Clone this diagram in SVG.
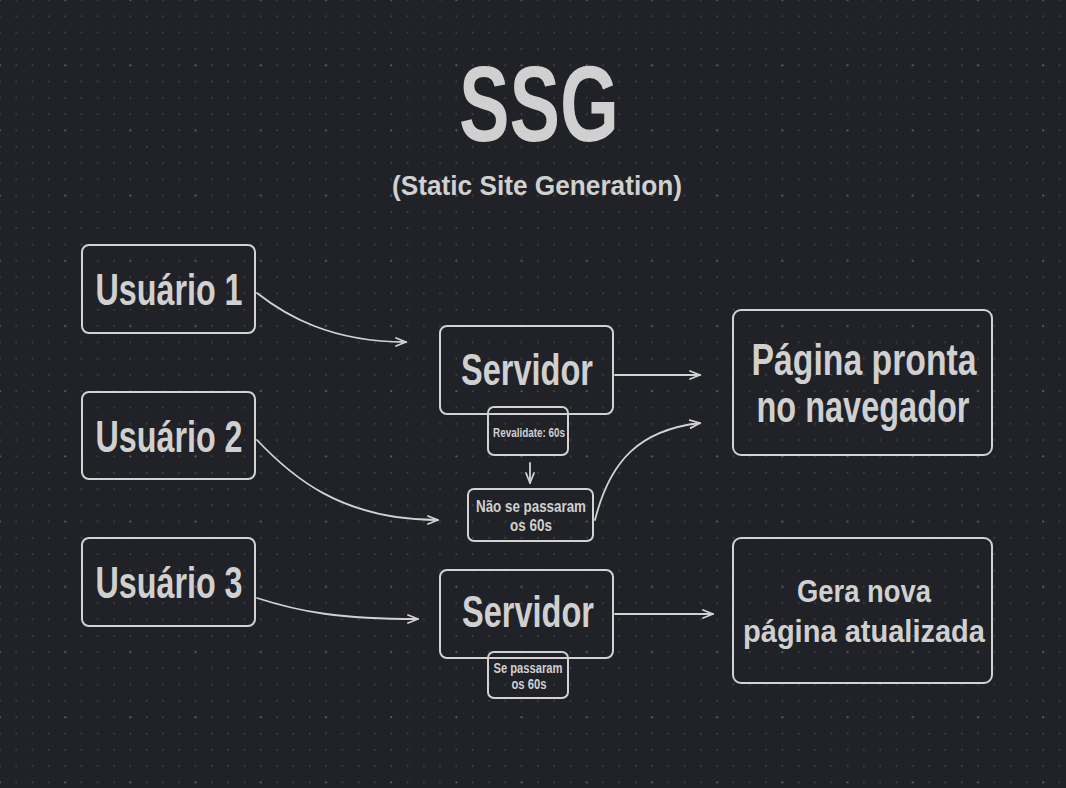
<svg xmlns="http://www.w3.org/2000/svg" width="1066" height="788" viewBox="0 0 1066 788">
<defs>
<style>
.box{fill:none;stroke:#d2d2d2;stroke-width:2;stroke-linejoin:round}
.conn{fill:none;stroke:#d2d2d2;stroke-width:1.8;stroke-linecap:round}
.t{font-family:"Liberation Sans",Arial,sans-serif;font-weight:bold;fill:#d0d0d0;text-anchor:middle}
</style>
<pattern id="grid" x="-8.15" y="-8.15" width="65.2" height="65.2" patternUnits="userSpaceOnUse">
<g fill="#43464d">
<circle cx="24.45" cy="8.15" r="0.9"/><circle cx="40.75" cy="8.15" r="0.9"/><circle cx="57.05" cy="8.15" r="0.9"/>
<circle cx="8.15" cy="24.45" r="0.9"/><circle cx="24.45" cy="24.45" r="0.9"/><circle cx="40.75" cy="24.45" r="0.9"/><circle cx="57.05" cy="24.45" r="0.9"/>
<circle cx="8.15" cy="40.75" r="0.9"/><circle cx="24.45" cy="40.75" r="0.9"/><circle cx="40.75" cy="40.75" r="0.9"/><circle cx="57.05" cy="40.75" r="0.9"/>
<circle cx="8.15" cy="57.05" r="0.9"/><circle cx="24.45" cy="57.05" r="0.9"/><circle cx="40.75" cy="57.05" r="0.9"/><circle cx="57.05" cy="57.05" r="0.9"/>
</g>
<circle cx="8.15" cy="8.15" r="1.1" fill="#62656c"/>
</pattern>
<marker id="arr" markerWidth="14" markerHeight="12" refX="11" refY="5" orient="auto" markerUnits="userSpaceOnUse">
<path d="M1,1 L11,5 L1,9" fill="none" stroke="#d2d2d2" stroke-width="1.8" stroke-linecap="round" stroke-linejoin="round"/>
</marker>
</defs>
<rect width="1066" height="788" fill="#202227"/>
<rect width="1066" height="788" fill="url(#grid)"/>

<g id="title">
<text class="t" x="539" y="141" font-size="108" textLength="160" lengthAdjust="spacingAndGlyphs">SSG</text>
<text class="t" x="537" y="195" font-size="28" textLength="290" lengthAdjust="spacingAndGlyphs">(Static Site Generation)</text>
</g>

<g id="connectors">
<path class="conn" d="M257,293 C285,315 330,342 406,342" marker-end="url(#arr)"/>
<path class="conn" d="M257,440 C290,475 340,520 438,520" marker-end="url(#arr)"/>
<path class="conn" d="M257,598 C300,612 340,619 418,619" marker-end="url(#arr)"/>
<path class="conn" d="M615,375 L700,375" marker-end="url(#arr)"/>
<path class="conn" d="M595,520 C610,460 640,430 700,423" marker-end="url(#arr)"/>
<path class="conn" d="M615,614 L713,614" marker-end="url(#arr)"/>
<path class="conn" d="M530,463 L530,483" marker-end="url(#arr)"/>
</g>

<g id="usuario1">
<rect class="box" x="82" y="245" width="173" height="88" rx="7"/>
<text class="t" x="169" y="305" font-size="44" textLength="147" lengthAdjust="spacingAndGlyphs">Usuário 1</text>
</g>
<g id="usuario2">
<rect class="box" x="82" y="392" width="173" height="87" rx="7"/>
<text class="t" x="169" y="452" font-size="44" textLength="147" lengthAdjust="spacingAndGlyphs">Usuário 2</text>
</g>
<g id="usuario3">
<rect class="box" x="82" y="538" width="173" height="88" rx="7"/>
<text class="t" x="169" y="598" font-size="44" textLength="147" lengthAdjust="spacingAndGlyphs">Usuário 3</text>
</g>

<g id="servidor1">
<rect class="box" x="440" y="326" width="173" height="88" rx="7"/>
<text class="t" x="527" y="385" font-size="44" textLength="132" lengthAdjust="spacingAndGlyphs">Servidor</text>
</g>
<g id="revalidate">
<rect class="box" x="488" y="407" width="80" height="48" rx="6"/>
<text class="t" x="529" y="437" font-size="13" textLength="72" lengthAdjust="spacingAndGlyphs">Revalidate: 60s</text>
</g>
<g id="nao-passaram">
<rect class="box" x="468" y="489" width="125" height="52" rx="6"/>
<text class="t" x="531" y="512" font-size="16" textLength="110" lengthAdjust="spacingAndGlyphs">Não se passaram</text>
<text class="t" x="531" y="531" font-size="16" textLength="42" lengthAdjust="spacingAndGlyphs">os 60s</text>
</g>

<g id="servidor2">
<rect class="box" x="440" y="570" width="173" height="88" rx="7"/>
<text class="t" x="528" y="627" font-size="44" textLength="132" lengthAdjust="spacingAndGlyphs">Servidor</text>
</g>
<g id="se-passaram">
<rect class="box" x="488" y="652" width="80" height="46" rx="6"/>
<text class="t" x="528" y="673" font-size="14" textLength="69" lengthAdjust="spacingAndGlyphs">Se passaram</text>
<text class="t" x="529" y="689" font-size="14" textLength="35" lengthAdjust="spacingAndGlyphs">os 60s</text>
</g>

<g id="pagina-pronta">
<rect class="box" x="733" y="310" width="259" height="145" rx="8"/>
<text class="t" x="864" y="375" font-size="44" textLength="225" lengthAdjust="spacingAndGlyphs">Página pronta</text>
<text class="t" x="863" y="422" font-size="44" textLength="213" lengthAdjust="spacingAndGlyphs">no navegador</text>
</g>
<g id="gera-nova">
<rect class="box" x="733" y="538" width="259" height="145" rx="8"/>
<text class="t" x="864" y="602" font-size="31" textLength="134" lengthAdjust="spacingAndGlyphs">Gera nova</text>
<text class="t" x="864" y="642" font-size="31" textLength="242" lengthAdjust="spacingAndGlyphs">página atualizada</text>
</g>
</svg>
